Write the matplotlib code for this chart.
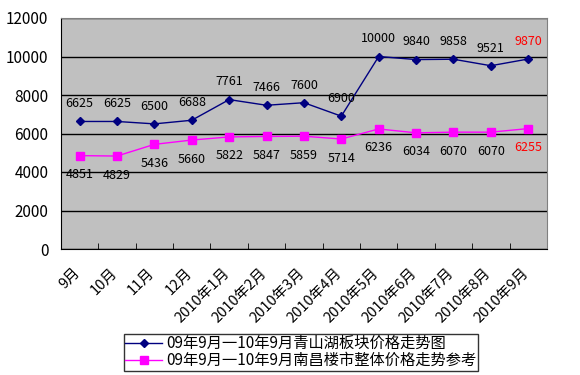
import matplotlib
matplotlib.use("Agg")
import matplotlib.pyplot as plt
import matplotlib.transforms as mtransforms
import numpy as np

plt.rcParams['font.family'] = ['Noto Sans CJK SC', 'DejaVu Sans']

# ── Data ────────────────────────────────────────────────
months = ['9月', '10月', '11月', '12月', '2010年1月', '2010年2月', '2010年3月',
          '2010年4月', '2010年5月', '2010年6月', '2010年7月', '2010年8月', '2010年9月']
qingshanhu = [6625, 6625, 6500, 6688, 7761, 7466, 7600, 6900, 10000, 9840, 9858, 9521, 9870]
nanchang = [4851, 4829, 5436, 5660, 5822, 5847, 5859, 5714, 6236, 6034, 6070, 6070, 6255]
label_blue = '09年9月一10年9月青山湖板块价格走势图'
label_pink = '09年9月一10年9月南昌楼市整体价格走势参考'

# ── Plot ────────────────────────────────────────────────
fig = plt.figure(figsize=(5.8, 3.75), dpi=100)
ax = fig.add_axes([0.105, 0.336, 0.838, 0.616])
ax.set_facecolor('#C0C0C0')

x = np.arange(len(months))
ax.plot(x, qingshanhu, color='#000080', linewidth=1, marker='D', markersize=4.5,
        label=label_blue, zorder=3)
ax.plot(x, nanchang, color='#FF00FF', linewidth=1, marker='s', markersize=5.5,
        markeredgecolor='#FF00FF', label=label_pink, zorder=3)

for i, (b, p) in enumerate(zip(qingshanhu, nanchang)):
    col = 'red' if i == len(months) - 1 else 'black'
    ax.annotate(str(b), (i, b), xytext=(0, 8), textcoords='offset points',
                ha='center', va='bottom', fontsize=9, color=col)
    ax.annotate(str(p), (i, p), xytext=(0, -9), textcoords='offset points',
                ha='center', va='top', fontsize=9, color=col)

ax.set_ylim(0, 12000)
ax.set_yticks(range(0, 12001, 2000))
ax.set_xlim(-0.5, len(months) - 0.5)
ax.yaxis.grid(True, color='black', linewidth=1)
ax.set_axisbelow(True)

# category ticks at boundaries, labels at points
ax.set_xticks(x)
ax.set_xticklabels(months, rotation=45, ha='right', rotation_mode='anchor',
                   fontsize=10.5, fontweight='medium')
ax.tick_params(axis='x', length=0, pad=12)
shift = mtransforms.ScaledTranslation(-7 / 100, 0, fig.dpi_scale_trans)
for lbl in ax.get_xticklabels():
    lbl.set_transform(lbl.get_transform() + shift)
ax.set_xticks(np.arange(-0.5, len(months) + 0.5), minor=True)
ax.tick_params(axis='x', which='minor', direction='in', length=4)
ax.tick_params(axis='y', length=0, labelsize=11, pad=9)

for s in ['top', 'right']:
    ax.spines[s].set_color('#808080')
for s in ['left', 'bottom']:
    ax.spines[s].set_color('black')

leg = fig.legend(loc='center', bbox_to_anchor=(0.519, 0.061), fontsize=11,
                 frameon=True, fancybox=False, edgecolor='black',
                 handlelength=2.4, borderpad=0.1, labelspacing=0.0,
                 handletextpad=0.3, borderaxespad=0)
leg.get_frame().set_linewidth(1)

fig.savefig('out.png', dpi=100)
